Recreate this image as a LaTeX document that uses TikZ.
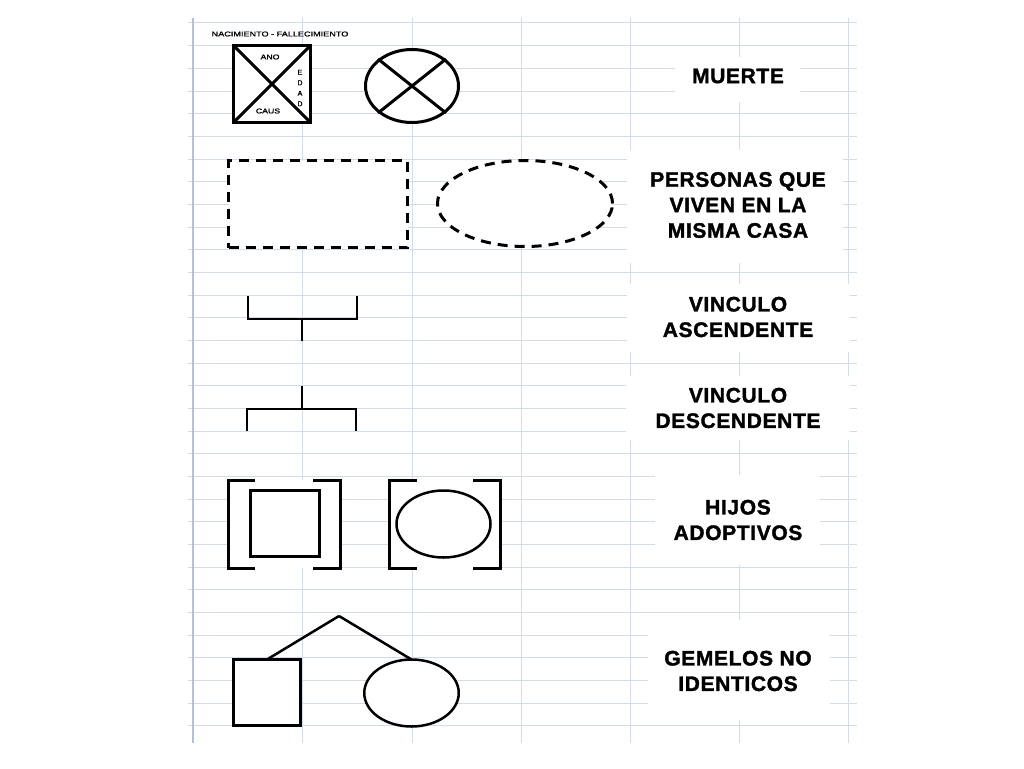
\documentclass[tikz,border=0pt]{standalone}
\usepackage{fontspec}
\setmainfont{Liberation Sans}[BoldFont={Liberation Sans Bold}]
\newfontfamily\labelfont{Liberation Sans Bold}[FakeBold=1.6, LetterSpace=3]
\newfontfamily\smallfont{Liberation Sans}[FakeBold=1.2]
\usetikzlibrary{shapes.geometric}
\definecolor{gridc}{HTML}{D3DAE8}
\definecolor{gridb}{HTML}{B4C0DA}
\tikzset{
  gridline/.style={draw=gridc, line width=1},
  gridborder/.style={draw=gridb, line width=2},
  patch/.style={fill=white, draw=none},
  sym/.style={draw=black, line width=3, fill=white, inner sep=0pt, outer sep=0pt},
  symline/.style={draw=black, line width=3},
  thinline/.style={draw=black, line width=2.5},
  label/.style={font=\labelfont\fontsize{21}{25.5}\selectfont, align=center, text=black, inner sep=0pt},
  tiny/.style={font=\smallfont\fontsize{7}{10.5}\selectfont, align=center, inner sep=0pt, text=black},
}
\begin{document}
\begin{tikzpicture}[x=1pt,y=-1pt]
\useasboundingbox[fill=white] (0,0) rectangle (1024,768);
% spreadsheet grid
\foreach \i in {0,...,31} {
  \path[gridline] (188,{23+22.67*\i}) -- (857,{23+22.67*\i});
}
\foreach \x in {302,412,521,630,739,848} {
  \path[gridline] (\x,18) -- (\x,743);
}
\path[gridborder] (193,18) -- (193,743);
% white patches behind labels
\path[patch] (675,57) rectangle (800,102);
\path[patch] (627,150) rectangle (843,263);
\path[patch] (627,284) rectangle (850,352);
\path[patch] (626,376) rectangle (850,440);
\path[patch] (655,475) rectangle (820,565);
\path[patch] (648,620) rectangle (830,720);
\path[patch] (228,480) rectangle (340,568);
\path[patch] (389,480) rectangle (500,568);

% Row 1: muerte
\node[tiny] (nac) at (280,34) {\scalebox{1.3}[1]{NACIMIENTO - FALLECIMIENTO}};
\node[sym, rectangle, minimum size=77] (sq1) at (272,84) {};
\draw[symline] (sq1.north west) -- (sq1.south east);
\draw[symline] (sq1.north east) -- (sq1.south west);
\node[tiny] (ano) at (270,57) {\scalebox{1.25}[1]{ANO}};
\node[tiny] (caus) at (268,111) {\scalebox{1.25}[1]{CAUS}};
\node[tiny] (edad) at (300,88) {E\\D\\A\\D};
\node[sym, ellipse, minimum width=93, minimum height=73] (el1) at (412,86) {};
\draw[symline] ([shift={(-34,-27)}]el1.center) -- ([shift={(34,27)}]el1.center);
\draw[symline] ([shift={(34,-27)}]el1.center) -- ([shift={(-34,27)}]el1.center);
\node[label] (muerte) at (738,76) {MUERTE};

% Row 2: personas que viven en la misma casa
\node[sym, rectangle, dashed, dash pattern=on 10pt off 7pt, minimum width=179, minimum height=87] (dr) at (318,204) {};
\node[sym, ellipse, dashed, dash pattern=on 10pt off 7pt, minimum width=175, minimum height=86] (de) at (525,203.5) {};
\node[label] (personas) at (738,205) {PERSONAS QUE\\VIVEN EN LA\\MISMA CASA};

% Row 3: vinculo ascendente
\draw[thinline] (248,296) -- (248,319) -- (357,319) -- (357,296);
\draw[thinline] (302,319) -- (302,341);
\node[label] (asc) at (738,317) {VINCULO\\ASCENDENTE};

% Row 4: vinculo descendente
\draw[thinline] (302,386) -- (302,409);
\draw[thinline] (247,431) -- (247,409) -- (356,409) -- (356,431);
\node[label] (desc) at (738,408) {VINCULO\\DESCENDENTE};

% Row 5: hijos adoptivos
\node[sym, rectangle, minimum width=69, minimum height=66] (sq5) at (285,523.5) {};
\draw[symline] (255,480) -- (228,480) -- (228,568) -- (255,568);
\draw[symline] (313,480) -- (340,480) -- (340,568) -- (313,568);
\node[sym, ellipse, line width=2.5, minimum width=94, minimum height=67] (el5) at (443.5,524) {};
\draw[symline] (417,480) -- (389,480) -- (389,568) -- (417,568);
\draw[symline] (473,480) -- (500,480) -- (500,568) -- (473,568);
\node[label] (hijos) at (738,520) {HIJOS\\ADOPTIVOS};

% Row 6: gemelos no identicos
\coordinate (apex) at (339,616);
\node[sym, rectangle, minimum width=67, minimum height=66] (sq6) at (267,692.5) {};
\node[sym, ellipse, line width=2.5, minimum width=94.5, minimum height=67] (el6) at (411.5,693) {};
\draw[thinline] (apex) -- (sq6.north);
\draw[thinline] (apex) -- (el6.north);
\node[label] (gem) at (738,671) {GEMELOS NO\\IDENTICOS};
\end{tikzpicture}
\end{document}
